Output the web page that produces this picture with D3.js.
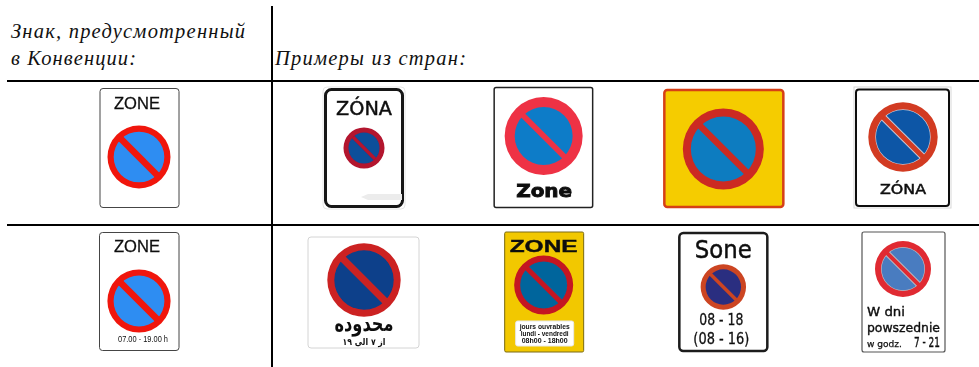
<!DOCTYPE html>
<html>
<head>
<meta charset="utf-8">
<script src="https://cdnjs.cloudflare.com/ajax/libs/d3/7.8.5/d3.min.js"></script>
<style>
    html, body { margin: 0; padding: 0; background: #fff; }
    svg { display: block; }
</style>
</head>
<body>
<div id="chart"></div>
<script>
// table content
const conventionHeader = ['Знак, предусмотренный', 'в Конвенции:'];
const examplesHeader = 'Примеры из стран:';
const columns = ['convention', 'ex1', 'ex2', 'ex3', 'ex4'];
const rows = ['zone', 'hours'];
const zoneTitles = ['ZONE', 'ZÓNA', 'Zone', '', 'ZÓNA'];
const hoursTitles = ['ZONE', 'محدوده', 'ZONE', 'Sone', 'W dni'];
const arabicHours = 'از ۷ الی ۱۹';
const frenchHours = ['jours ouvrables', 'lundi - vendredi', '08h00 - 18h00'];
const norwegianHours = ['08 - 18', '(08 - 16)'];
const polishHours = ['powszednie', 'w godz.', '7 - 21'];
const conventionHours = '07.00 - 19.00 h';

const width = 979, height = 367;
const svg = d3.select('#chart').append('svg').attr('width', width).attr('height', height);

const xExamples = d3.scalePoint().domain(columns.slice(1)).range([364, 903]);
const xCol = c => c === 'convention' ? 139 : xExamples(c);

// table rules
const rules = svg.append('g').attr('stroke', '#000').attr('stroke-width', 2);
rules.append('line').attr('x1', 272).attr('x2', 272).attr('y1', 6).attr('y2', height);
rules.append('line').attr('x1', 7).attr('x2', width).attr('y1', 81).attr('y2', 81);
rules.append('line').attr('x1', 7).attr('x2', width).attr('y1', 225).attr('y2', 225);

const header = (txt, x, y, len) => svg.append('text')
    .attr('x', x).attr('y', y)
    .attr('textLength', len)
    .attr('font-family', '"Liberation Serif", serif')
    .attr('font-style', 'italic')
    .attr('font-size', 20.5)
    .attr('fill', '#111')
    .text(txt);
header(conventionHeader[0], 11, 38, 234);
header(conventionHeader[1], 11, 65, 125);
header(examplesHeader, 275, 65, 191);

// signs are a bit soft in the scan
const defs = svg.append('defs');
defs.append('filter').attr('id', 'soft')
    .append('feGaussianBlur').attr('stdDeviation', 0.35);
const signs = svg.append('g').attr('filter', 'url(#soft)');

function plate(c, dx0, dx1, y0, y1, o) {
    const cx = xCol(c);
    return signs.append('rect')
        .attr('x', cx + dx0).attr('y', y0)
        .attr('width', dx1 - dx0).attr('height', y1 - y0)
        .attr('rx', o.rx === undefined ? 3 : o.rx)
        .attr('fill', o.fill || '#fff')
        .attr('stroke', o.stroke || '#333')
        .attr('stroke-width', o.sw || 1);
}

// no-parking disc: red ring and a 45 degree bar
const ringArc = d3.arc().startAngle(0).endAngle(2 * Math.PI);
function disc(c, dx, cy, r, ring, fill, ringW, bar, edge) {
    const g = signs.append('g').attr('transform', `translate(${xCol(c) + dx},${cy})`);
    g.append('circle').attr('r', r - ringW / 2).attr('fill', fill);
    if (edge) {
        g.append('circle').attr('r', r - ringW).attr('fill', 'none')
            .attr('stroke', edge).attr('stroke-width', 1.4);
    }
    const k = (r - ringW / 2) * Math.SQRT1_2;
    if (edge) {
        g.append('line').attr('x1', -k).attr('y1', -k).attr('x2', k).attr('y2', k)
            .attr('stroke', edge).attr('stroke-width', bar + 2);
    }
    g.append('line').attr('x1', -k).attr('y1', -k).attr('x2', k).attr('y2', k)
        .attr('stroke', ring).attr('stroke-width', bar);
    g.append('path').attr('fill', ring)
        .attr('d', ringArc({ innerRadius: r - ringW, outerRadius: r }));
}

function label(c, dx, y, txt, o) {
    const t = signs.append('text')
        .attr('x', xCol(c) + dx).attr('y', y)
        .attr('text-anchor', o.anchor || 'middle')
        .attr('font-family', o.font || '"Liberation Sans", sans-serif')
        .attr('font-size', o.size)
        .attr('font-weight', o.weight || 'normal')
        .attr('fill', o.fill || '#111')
        .text(txt);
    if (o.len) t.attr('textLength', o.len).attr('lengthAdjust', 'spacingAndGlyphs');
    if (o.stroke) t.attr('stroke', o.fill || '#111').attr('stroke-width', o.stroke);
    return t;
}

const dejavu = '"DejaVu Sans", sans-serif';

// row 1
plate('convention', -39, 40, 88.5, 207.5, { stroke: '#444', rx: 3 });
label('convention', -2, 109, zoneTitles[0], { size: 17, len: 46, stroke: 0.3 });
disc('convention', 0, 157, 31.5, '#f0180c', '#2f8df2', 6.2, 6.5);

plate('ex1', -41, 41, 87, 209, { stroke: '#e6e6e6', sw: 1, rx: 4 });
plate('ex1', -38.5, 38.5, 89.5, 206.5, { stroke: '#161616', sw: 3, rx: 6 });
label('ex1', 0, 115, zoneTitles[1], { size: 20, len: 56, font: dejavu, stroke: 0.5 });
disc('ex1', 0, 148, 20.5, '#b3122f', '#0a4f9a', 5, 3.5);
signs.append('path').attr('fill', '#ececec')
    .attr('d', d3.line()([[361, 197], [368, 194], [402, 194], [402, 200], [368, 200]]));

plate('ex2', -49.5, 49, 87.5, 207.5, { stroke: '#222', sw: 1.5, rx: 2 });
disc('ex2', 0, 136, 39, '#ee3345', '#0f7cc8', 10, 5.5);
label('ex2', 0.5, 197, zoneTitles[2], { size: 18, len: 56, font: dejavu, weight: 'bold', stroke: 0.9 });

plate('ex3', -59, 60, 90, 207, { fill: '#f5cc00', stroke: '#d63f18', sw: 2.5, rx: 3 });
disc('ex3', 0, 149, 40.5, '#cc2a22', '#0e7cc0', 8, 6.5);

plate('ex4', -49, 48, 87, 208, { stroke: '#d8d8d8', sw: 1, rx: 0 });
plate('ex4', -47, 46, 89.5, 206, { stroke: '#111', sw: 2, rx: 3 });
disc('ex4', 0, 137, 34.7, '#d23a20', '#0b57a6', 7, 5, '#c8c8d8');
label('ex4', 0, 194, zoneTitles[4], { size: 14, len: 46, font: dejavu, stroke: 0.5 });

// row 2
plate('convention', -39.5, 40, 232.5, 350.5, { stroke: '#444', rx: 3 });
label('convention', -2, 252, hoursTitles[0], { size: 17, len: 46, stroke: 0.3 });
disc('convention', 0, 301, 31.6, '#f0180c', '#2f8df2', 6.2, 6.5);
label('convention', 4, 342, conventionHours, { size: 9, len: 50 });

plate('ex1', -56, 55, 237, 348, { stroke: '#d4d4d4', sw: 1, rx: 3 });
disc('ex1', 0, 280, 36.7, '#cc2222', '#0b3f8a', 7, 7);
label('ex1', 0, 331, hoursTitles[1], { size: 22, font: dejavu, len: 59, weight: 'bold' });
label('ex1', 0, 345, arabicHours, { size: 9, font: dejavu, len: 43, weight: 'bold' });

plate('ex2', -39, 40, 232, 352, { fill: '#f2c800', stroke: '#7a6a10', sw: 1, rx: 1.5 });
label('ex2', 0, 252, hoursTitles[2], { size: 17, len: 68, weight: 'bold', stroke: 0.4 });
disc('ex2', 0, 285, 29.5, '#c41420', '#05659c', 6, 5);
plate('ex2', -28, 30, 321, 346, { rx: 2, stroke: '#e8e8e8' });
frenchHours.forEach((t, i) => label('ex2', 1, 328.5 + i * 7, t, { size: 6.8, weight: 'bold', len: 50 - i * 2 }));

plate('ex3', -44, 44, 233, 351, { stroke: '#1a1a1a', sw: 2.5, rx: 4 });
label('ex3', 0, 258, hoursTitles[3], { size: 25, font: dejavu, len: 57, stroke: 0.5 });
disc('ex3', 0, 287, 22.7, '#cc4422', '#2b2f80', 5, 3.5);
norwegianHours.forEach((t, i) => label('ex3', -2, 325 + i * 19, t, { size: 15, font: dejavu, len: 44 + i * 12, stroke: 0.3 }));

plate('ex4', -41, 42, 232, 352, { stroke: '#555', sw: 1.2, rx: 2 });
disc('ex4', 0, 269, 28, '#e02a30', '#4a7cc0', 6, 4, '#b8b8c0');
label('ex4', -36, 316, hoursTitles[4], { size: 13, font: dejavu, anchor: 'start', len: 38, stroke: 0.4 });
label('ex4', -36, 332, polishHours[0], { size: 13, font: dejavu, anchor: 'start', len: 73, stroke: 0.4 });
label('ex4', -36, 347, polishHours[1], { size: 9, font: dejavu, anchor: 'start', len: 35, stroke: 0.25 });
label('ex4', 37, 347, polishHours[2], { size: 14, font: dejavu, anchor: 'end', len: 26, stroke: 0.4 });
</script>
</body>
</html>
